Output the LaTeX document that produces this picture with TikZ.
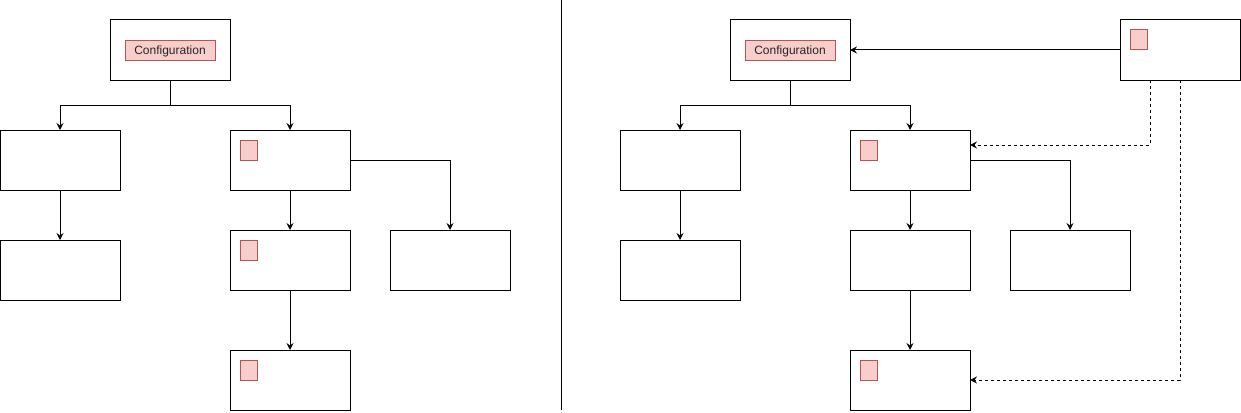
\documentclass[tikz,border=0pt]{standalone}
\usepackage{fontspec}
\setmainfont{Liberation Sans}
\usetikzlibrary{arrows.meta}
\definecolor{redfill}{HTML}{F8CECC}
\definecolor{redline}{HTML}{B85450}
\begin{document}
\begin{tikzpicture}[x=1pt,y=-1pt,
  box/.style={draw,line width=1pt,minimum width=120pt,minimum height=60pt,inner sep=0pt,outer sep=0pt},
  tag/.style={draw=redline,fill=redfill,line width=1pt,minimum width=17pt,minimum height=20pt,inner sep=0pt,outer sep=0pt},
  lab/.style={tag,minimum width=90pt,font=\fontsize{12}{14}\selectfont,text=black!85,text depth=0pt,text height=8.6pt},
  conn/.style={line width=1pt,-{Stealth[length=7pt,width=7pt,inset=2.5pt]}},
  dconn/.style={conn,dash pattern=on 3pt off 3pt}]
\useasboundingbox (0,0) rectangle (1241,412);
% divider
\coordinate (divT) at (561,0);
\coordinate (divB) at (561,410);
\draw[line width=1pt] (divT) -- (divB);
% ---------- left diagram ----------
\node[box] (cfgL) at (170,50) {};
\node[lab] (cfgLlab) at (170,50.5) {Configuration};
\node[box] (aL) at (60,160) {};
\node[box] (a2L) at (60,270) {};
\node[box] (bL) at (290,160) {};
\node[tag] (bLt) at (248.5,150) {};
\node[box] (cL) at (290,260) {};
\node[tag] (cLt) at (248.5,250) {};
\node[box] (dL) at (450,260) {};
\node[box] (eL) at (290,380) {};
\node[tag] (eLt) at (248.5,370) {};
\draw[conn] (cfgL.south) |- ++(0,25) -| (aL.north);
\draw[conn] (cfgL.south) |- ++(0,25) -| (bL.north);
\draw[conn] (aL.south) -- (a2L.north);
\draw[conn] (bL.south) -- (cL.north);
\draw[conn] (bL.east) -| (dL.north);
\draw[conn] (cL.south) -- (eL.north);
% ---------- right diagram ----------
\node[box] (cfgR) at (790,50) {};
\node[lab] (cfgRlab) at (790,50.5) {Configuration};
\node[box] (aR) at (680,160) {};
\node[box] (a2R) at (680,270) {};
\node[box] (bR) at (910,160) {};
\node[tag] (bRt) at (868.5,150) {};
\node[box] (cR) at (910,260) {};
\node[box] (dR) at (1070,260) {};
\node[box] (eR) at (910,380) {};
\node[tag] (eRt) at (868.5,370) {};
\node[box] (fR) at (1180,50) {};
\node[tag] (fRt) at (1138.5,40) {};
\draw[conn] (cfgR.south) |- ++(0,25) -| (aR.north);
\draw[conn] (cfgR.south) |- ++(0,25) -| (bR.north);
\draw[conn] (aR.south) -- (a2R.north);
\draw[conn] (bR.south) -- (cR.north);
\draw[conn] (bR.east) -| (dR.north);
\draw[conn] (cR.south) -- (eR.north);
\draw[conn] (fR.west) -- (cfgR.east);
\draw[dconn] ([xshift=-30pt]fR.south) |- ([yshift=15pt]bR.east);
\draw[dconn] (fR.south) |- (eR.east);
\end{tikzpicture}
\end{document}
